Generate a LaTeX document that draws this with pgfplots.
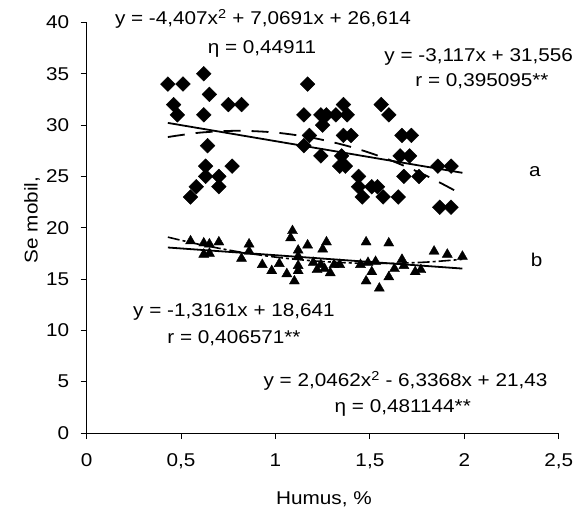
\documentclass[border=0pt]{standalone}
\usepackage{fontspec}
\setmainfont{Liberation Sans}[FakeStretch=1.12]
\usepackage{pgfplots}
\pgfplotsset{compat=1.18}
\newcommand{\cf}{\fontsize{18.5}{22}\selectfont}
\begin{document}
\begin{tikzpicture}[x=1pt,y=1pt]
\useasboundingbox (-86.7,-79) rectangle (492.3,433);
\begin{axis}[
  at={(0,0)}, anchor=south west,
  scale only axis, width=472pt, height=410.5pt,
  xmin=0, xmax=2.5, ymin=0, ymax=40,
  axis x line=bottom, axis y line=left,
  axis line style={-, line width=0.8pt},
  xtick={0,0.5,1,1.5,2,2.5},
  xticklabels={0,{0,5},1,{1,5},2,{2,5}},
  ytick={0,5,10,15,20,25,30,35,40},
  tick align=outside, major tick length=6pt,
  tick style={line width=0.8pt, black},
  /pgf/number format/assume math mode=true,
  tick label style={font=\cf},
  xticklabel style={yshift=-11pt},
  yticklabel style={xshift=-8pt},
  clip=false,
]
% series a (diamonds)
\addplot[only marks, mark=square*, mark size=5.2pt, mark options={rotate=45, fill=black, draw=black}] coordinates {
(0.43,34) (0.51,34) (0.62,35) (0.65,33) (0.46,32) (0.48,31) (0.62,31) (0.75,32) (0.82,32)
(0.64,28) (0.63,26) (0.77,26) (0.63,25) (0.70,25) (0.70,24) (0.58,24) (0.55,23)
(1.17,34) (1.15,31) (1.24,31) (1.27,31) (1.32,31) (1.36,32) (1.38,31) (1.25,30) (1.18,29)
(1.36,29) (1.40,29) (1.56,32) (1.60,31) (1.15,28) (1.24,27) (1.35,27) (1.34,26) (1.37,26)
(1.44,25) (1.44,24) (1.51,24) (1.54,24) (1.46,23) (1.57,23) (1.65,23) (1.66,27) (1.71,27)
(1.86,26) (1.93,26) (1.68,25) (1.76,25) (1.87,22) (1.93,22) (1.67,29) (1.72,29)
};
% series b (triangles)
\addplot[only marks, mark=triangle*, mark size=5.8pt, mark options={fill=black, draw=black}] coordinates {
(0.55,18.7) (0.62,18.5) (0.65,18.4) (0.70,18.6) (0.62,17.4) (0.65,17.5) (0.86,18.4) (0.86,17.7)
(0.82,17.0) (0.93,16.4) (0.98,15.8) (1.02,16.5) (1.09,19.7) (1.08,19.0) (1.17,18.3) (1.27,18.6)
(1.25,17.9) (1.12,17.8) (1.12,17.2) (1.12,16.3) (1.12,15.8) (1.06,15.5) (1.10,14.8) (1.20,16.6)
(1.22,15.9) (1.26,16.0) (1.29,15.6) (1.34,16.4) (1.45,16.4) (1.48,18.6) (1.60,18.5) (1.49,16.6)
(1.53,16.7) (1.51,15.7) (1.48,14.8) (1.55,14.1) (1.60,15.2) (1.63,16.0) (1.67,16.9) (1.68,16.3)
(1.74,15.7) (1.77,15.9) (1.84,17.7) (1.91,17.4) (1.99,17.2) (1.24,16.4) (1.31,16.4)
};
% linear trend a
\addplot[black, line width=1.8pt] coordinates {(0.43,30.216) (1.99,25.353)};
% polynomial trend a
\addplot[black, line width=1.8pt, dash pattern=on 17pt off 11pt, smooth] coordinates {
(0.43,28.839) (0.6,29.269) (0.8,29.449) (1.0,29.276) (1.2,28.751) (1.4,27.873) (1.6,26.643) (1.8,25.060) (1.99,23.229)};
% linear trend b
\addplot[black, line width=1.8pt] coordinates {(0.43,18.075) (1.99,16.022)};
% polynomial trend b
\addplot[black, line width=1.6pt, dash pattern=on 12pt off 3pt on 3pt off 3pt, smooth] coordinates {
(0.43,19.084) (0.6,18.365) (0.8,17.670) (1.0,17.139) (1.2,16.772) (1.4,16.569) (1.6,16.529) (1.8,16.653) (1.99,16.923)};
\end{axis}
\begin{scope}[every node/.style={font=\cf, inner sep=0pt}]
\node[anchor=base] at (176.3,408) {y = -4,407x\textsuperscript{2} + 7,0691x + 26,614};
\node[anchor=base] at (175.3,379.7) {η = 0,44911};
\node[anchor=base] at (392,371.3) {y = -3,117x + 31,556};
\node[anchor=base] at (395.3,346.3) {r = 0,395095**};
\node[anchor=base] at (147.3,116.3) {y = -1,3161x + 18,641};
\node[anchor=base] at (147.3,89.7) {r = 0,406571**};
\node[anchor=base] at (318.8,46.3) {y = 2,0462x\textsuperscript{2} - 6,3368x + 21,43};
\node[anchor=base] at (316.1,20) {η = 0,481144**};
\node at (448.3,261.3) {a};
\node at (450,173) {b};
\node at (237.3,-66) {Humus, \%};
\node[rotate=90] at (-54.7,213) {Se mobil,};
\end{scope}
\end{tikzpicture}
\end{document}
